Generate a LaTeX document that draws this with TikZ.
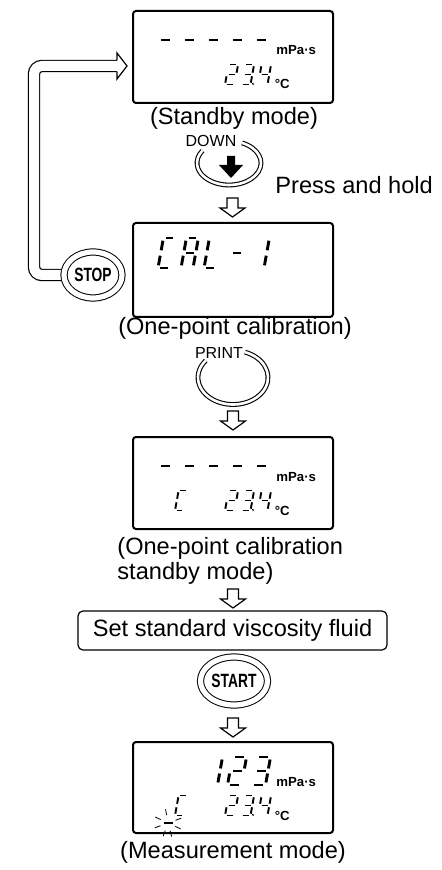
\documentclass[tikz,border=0pt]{standalone}
\usepackage{fontspec}
\setmainfont{Liberation Sans}
\newfontfamily\keyfont{Liberation Sans}[FakeStretch=0.72]
\usetikzlibrary{shapes.geometric,backgrounds,calc}

% seven-segment pieces (unit cell 1 x 2)
\pgfkeys{/lcdseg/.cd,
  a/.code={\draw (0.18,2) -- (0.82,2);},
  b/.code={\draw (1,1.82) -- (1,1.18);},
  c/.code={\draw (1,0.82) -- (1,0.18);},
  d/.code={\draw (0.18,0) -- (0.82,0);},
  e/.code={\draw (0,0.18) -- (0,0.82);},
  f/.code={\draw (0,1.18) -- (0,1.82);},
  g/.code={\draw (0.18,1) -- (0.82,1);},
  p/.code={\draw (1.25,0) -- (1.25,0.12);}}
\newcommand{\lcdchar}[6][smallseg]{%
  \begin{scope}[shift={(#2,#3)},xslant=0.18,xscale=#4,yscale=-#5/2,#1]
    \pgfkeys{/lcdseg/.cd,#6}
  \end{scope}}

\begin{document}
\begin{tikzpicture}[
    x=0.5pt, y=-0.5pt,
    lcdbox/.style={rectangle, draw, line width=1pt, rounded corners=1.5pt, minimum width=100pt, inner sep=0pt},
    modetext/.style={font=\fontsize{11.8}{12.5}\selectfont, inner sep=0pt},
    keytext/.style={font=\fontsize{8}{9}\selectfont, inner sep=0pt},
    unit/.style={font=\bfseries\fontsize{6.6}{7}\selectfont, inner sep=0pt, anchor=base west},
    smallseg/.style={line width=0.95pt},
    bigseg/.style={line width=1.45pt},
    button/.style={ellipse, draw, fill=white, double, double distance=2.6pt, line width=0.5pt, inner sep=0pt, font=\keyfont\bfseries\fontsize{9.6}{10}\selectfont},
    ring/.style={double, double distance=1.3pt, line width=0.55pt},
    band/.style={double, double distance=5pt, line width=0.6pt, rounded corners=4pt},
    stepbox/.style={rectangle, draw, line width=0.6pt, rounded corners=2.5pt, minimum width=154.5pt, minimum height=19.5pt, font=\fontsize{11.8}{14}\selectfont},
    downarrow/.pic={\draw[line width=0.6pt, fill=white] (-5.5,0) -- (-5.5,10) -- (-12.5,10) -- (0,19) -- (12.5,10) -- (5.5,10) -- (5.5,0) -- cycle;}
]
    \useasboundingbox (0,0) rectangle (442,870);

    % Displays
    \node [lcdbox, minimum height=46pt] (disp1) at (233,57) {};
    \node [lcdbox, minimum height=47pt] (disp2) at (233,270) {};
    \node [lcdbox, minimum height=46pt] (disp3) at (233,483) {};
    \node [lcdbox, minimum height=45.5pt] (disp4) at (233,787.5) {};

    % Captions
    \node [modetext] (standby) at (234,118) {(Standby mode)};
    \node [modetext, anchor=west] (press) at (275,185) {Press and hold};
    \node [modetext] (onepoint) at (235,328) {(One-point calibration)};
    \node [modetext, align=left, anchor=north west] (calstandby) at (117,537) {(One-point calibration\\standby mode)};
    \node [stepbox] (setfluid) at (232.5,630.5) {Set standard viscosity fluid};
    \node [modetext] (measure) at (233,852) {(Measurement mode)};

    % Keys
    \node [keytext] (down) at (211,141) {DOWN};
    \node [keytext] (print) at (219,353) {PRINT};
    \node [button, minimum width=29pt, minimum height=23pt] (stop) at (93,275) {STOP};
    \node [button, minimum width=33.5pt, minimum height=24pt] (start) at (234,681) {START};

    \coordinate (downring) at ($(down)+(18,22)$);
    \draw [ring] (downring) ++(-66:32 and 22) arc[start angle=-66, end angle=214, x radius=32, y radius=22];
    \fill (downring) ++(-2,-7) -- ++(8,0) -- ++(0,9) -- ++(8,0) -- ++(-12,13) -- ++(-12,-13) -- ++(8,0) -- cycle;
    \coordinate (printring) at ($(print)+(14,24.5)$);
    \draw [ring] (printring) ++(-70:35 and 27) arc[start angle=-70, end angle=219, x radius=35, y radius=27];

    % Flow arrows
    \pic at (232.5,198) {downarrow};
    \pic at (233,411) {downarrow};
    \pic at (233,589) {downarrow};
    \pic at (233,718) {downarrow};

    % Return loop from STOP
    \coordinate (loopcorner) at (34,66);
    \coordinate (loopend) at (117,66);
    \begin{scope}[on background layer]
        \draw [band] (stop.center) -| (loopcorner) -- (loopend);
    \end{scope}
    \draw [line width=0.6pt, fill=white] ($(loopend)+(0,-5.6)$) -- ($(loopend)+(0,-13)$) -- ($(loopend)+(10,0)$) -- ($(loopend)+(0,13)$) -- ($(loopend)+(0,5.6)$);

    % Display contents
    \foreach \top in {11,437} {
        \foreach \i in {0,...,4} {\lcdchar[bigseg]{155.5+24*\i}{\top+43}{14}{28}{g}}
    }
    \foreach \top in {11,437,742} {
        \lcdchar{225}{\top+73.5}{9.5}{20}{a,b,g,e,d}
        \lcdchar{241}{\top+73.5}{9.5}{20}{a,b,g,c,d,p}
        \lcdchar{258}{\top+73.5}{9.5}{20}{f,g,b,c}
        \node [unit] (degc\top) at (274.5,\top+78) {°C};
        \node [unit] (mpas\top) at (276,\top+44) {mPa·s};
    }
    \lcdchar{175}{510.5}{9}{20}{a,f,e,d}
    \lcdchar{175}{815.5}{9}{20}{a,f,e,d}
    % CAL-1
    \lcdchar[bigseg]{158}{268}{12}{30}{a,f,e,d}
    \lcdchar[bigseg]{181}{268}{12}{30}{a,b,c,e,f,g}
    \lcdchar[bigseg]{204}{268}{12}{30}{f,e,d}
    \lcdchar[bigseg]{228}{268}{12}{30}{g}
    \lcdchar[bigseg]{252}{268}{12}{30}{b,c}
    % 123
    \lcdchar[bigseg]{203.5}{785}{14}{28}{b,c}
    \lcdchar[bigseg]{227.5}{785}{14}{28}{a,b,g,e,d}
    \lcdchar[bigseg]{251.5}{785}{14}{28}{a,b,g,c,d}
    % blinking mark
    \coordinate (blink) at (168,823);
    \draw [line width=1pt] ($(blink)+(-4.5,0)$) -- ($(blink)+(4.5,0)$);
    \foreach \a in {-20,-100,-155,-200,-250,-285,-335}
        \draw [line width=0.4pt] ($(blink)+(\a:8)$) -- ($(blink)+(\a:14)$);
\end{tikzpicture}
\end{document}
